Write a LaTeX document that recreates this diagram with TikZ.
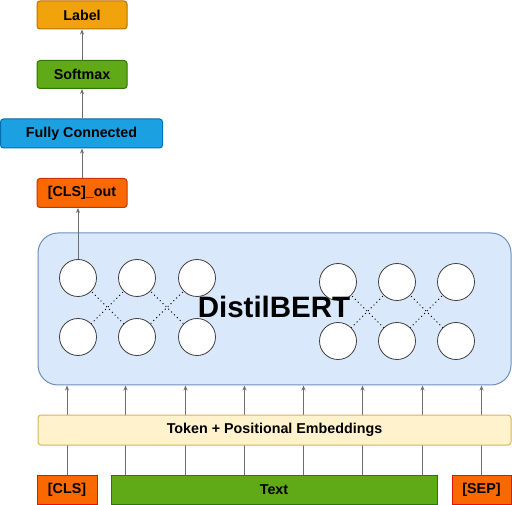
\documentclass[tikz,border=0pt]{standalone}
\usepackage{fontspec}
\setmainfont{Liberation Sans}
\usetikzlibrary{arrows.meta,calc}
\definecolor{lblF}{HTML}{F0A30A}\definecolor{lblD}{HTML}{BD7000}
\definecolor{grnF}{HTML}{60A917}\definecolor{grnD}{HTML}{2D7600}
\definecolor{bluF}{HTML}{1BA1E2}\definecolor{bluD}{HTML}{006EAF}
\definecolor{orF}{HTML}{FA6800}\definecolor{orD}{HTML}{C73500}
\definecolor{redD}{HTML}{E51400}
\definecolor{bertF}{HTML}{DAE8FC}\definecolor{bertD}{HTML}{6C8EBF}
\definecolor{embF}{HTML}{FFF2CC}\definecolor{embD}{HTML}{D6B656}
\definecolor{arrC}{HTML}{6E6E6E}
\tikzset{
  box/.style={draw, line width=1pt, rounded corners=3pt, inner sep=0pt,
    font=\fontsize{14.3}{16}\selectfont\bfseries},
  sqbox/.style={box, sharp corners},
  neuron/.style={circle, draw=black!75, fill=white, line width=0.8pt, minimum size=37pt, inner sep=0pt},
  link/.style={line width=1pt, dash pattern=on 1pt off 3pt},
  arr/.style={draw=arrC, line width=0.9pt, -{Stealth[length=5pt,width=4pt]}}
}
\begin{document}
\begin{tikzpicture}[x=1pt,y=-1pt]
\useasboundingbox (0,0) rectangle (512,505);
% top chain
\node[box, fill=lblF, draw=lblD, minimum width=90pt, minimum height=28pt] (label) at (82,15) {Label};
\node[box, fill=grnF, draw=grnD, minimum width=90pt, minimum height=28pt] (softmax) at (82,74.5) {Softmax};
\node[box, fill=bluF, draw=bluD, minimum width=162pt, minimum height=29pt] (fc) at (81.5,133.5) {Fully Connected};
\node[box, fill=orF, draw=orD, minimum width=90pt, minimum height=29pt] (clsout) at (82,193) {[CLS]\_out};
% DistilBERT block
\node[draw=bertD, fill=bertF, line width=1pt, rounded corners=20pt, minimum width=473pt, minimum height=152pt, inner sep=0pt] (bert) at (274.5,309) {};
% dotted links and neurons
\foreach \n/\x/\y in {l11/78/278, l12/137/278, l13/197/278, l21/78/337, l22/137/337, l23/197/337,
                      r11/338/282, r12/397/282, r13/456/282, r21/338/341, r22/397/341, r23/456/341}
  \coordinate (c\n) at (\x,\y);
\foreach \a/\b in {l11/l22, l12/l21, l12/l23, l13/l22, r11/r22, r12/r21, r12/r23, r13/r22}
  \draw[link] (c\a) -- (c\b);
\foreach \n in {l11,l12,l13,l21,l22,l23,r11,r12,r13,r21,r22,r23}
  \node[neuron] (\n) at (c\n) {};
\node[font=\fontsize{29.5}{32}\selectfont\bfseries] (berttxt) at (274,307) {DistilBERT};
% bottom inputs
\node[sqbox, fill=orF, draw=redD, minimum width=60pt, minimum height=29pt] (cls) at (67,489.5) {[CLS]};
\node[sqbox, fill=grnF, draw=grnD, minimum width=326pt, minimum height=29pt] (text) at (274,489.5) {Text};
\node[sqbox, fill=orF, draw=redD, minimum width=59pt, minimum height=29pt] (sep) at (481.5,489.5) {[SEP]};
% arrows into DistilBERT
\foreach \dx [count=\i] in {15,75,134,193,252,312}
  \coordinate (t\i) at ($(text.north west)+(\dx,0)$);
\draw[arr] (cls.north) -- (cls.north |- bert.south);
\foreach \i in {1,...,6}
  \draw[arr] (t\i) -- (t\i |- bert.south);
\draw[arr] (sep.north) -- (sep.north |- bert.south);
% embeddings (on top of the arrows)
\node[box, fill=embF, draw=embD, minimum width=473pt, minimum height=30pt] (emb) at (274.5,430) {Token + Positional Embeddings};
% upward chain
\draw[arr] (l11.north) -- (l11.north |- clsout.south);
\draw[arr] (clsout.north) -- (clsout.north |- fc.south);
\draw[arr] (fc.north -| softmax.south) -- (softmax.south);
\draw[arr] (softmax.north) -- (label.south);
\end{tikzpicture}
\end{document}
